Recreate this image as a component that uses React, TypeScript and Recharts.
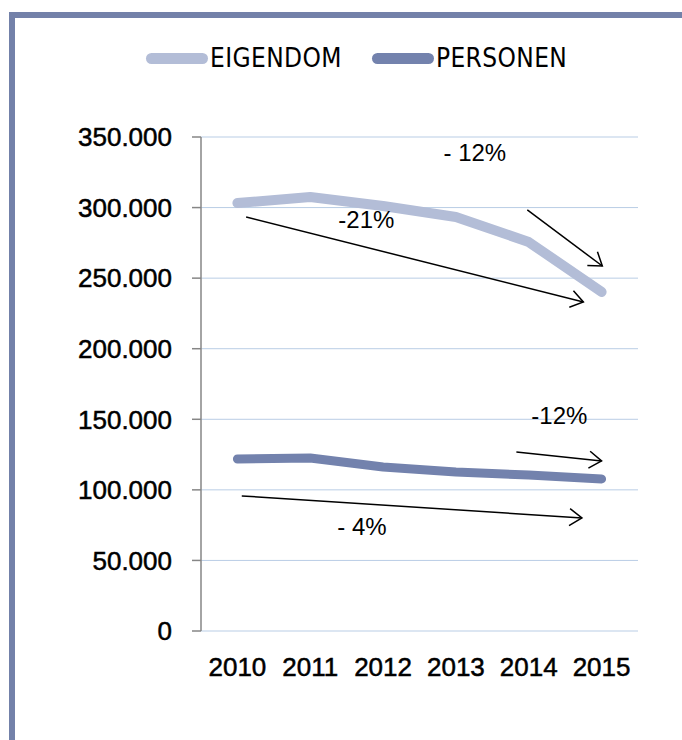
import React from "react";
import {
  LineChart,
  Line,
  XAxis,
  YAxis,
  CartesianGrid,
  ReferenceLine,
  ReferenceDot,
} from "recharts";

// values
const years = ["2010", "2011", "2012", "2013", "2014", "2015"];
const eigendom = [303200, 307500, 301100, 293300, 275600, 240200];
const personen = [121900, 122600, 116200, 112700, 110500, 107700];
const yTicks = [0, 50000, 100000, 150000, 200000, 250000, 300000, 350000];

// hand drawn arrows and their labels, in data units (x = year index)
const arrows = [
  { x1: 0.12, y1: 293300, x2: 4.75, y2: 233100 },
  { x1: 3.98, y1: 298300, x2: 5.01, y2: 258600 },
  { x1: 3.83, y1: 126800, x2: 5.0, y2: 120500 },
  { x1: 0.06, y1: 95700, x2: 4.73, y2: 80100 },
];
const notes = [
  { text: "- 12%", x: 3.26, y: 338700 },
  { text: "-21%", x: 1.77, y: 291200 },
  { text: "-12%", x: 4.42, y: 153000 },
  { text: "- 4%", x: 1.71, y: 73700 },
];

const series = [
  { key: "EIGENDOM", color: "#b3bdd7", width: 10 },
  { key: "PERSONEN", color: "#7382ad", width: 9 },
];

const data = years.map((year, i) => ({
  idx: i,
  year,
  EIGENDOM: eigendom[i],
  PERSONEN: personen[i],
}));

const boundaries = years.map((_, i) => i - 0.5).concat(years.length - 0.5);

const fmtY = (v: number) => (v === 0 ? "0" : `${v / 1000}.000`);

const Arrow = (props: any) => {
  const { x1, y1, x2, y2 } = props;
  const ang = Math.atan2(y2 - y1, x2 - x1);
  const len = 15;
  const spread = 0.6;
  const a = { x: x2 - len * Math.cos(ang - spread), y: y2 - len * Math.sin(ang - spread) };
  const b = { x: x2 - len * Math.cos(ang + spread), y: y2 - len * Math.sin(ang + spread) };
  return (
    <g>
      <line x1={x1} y1={y1} x2={x2} y2={y2} stroke="#000" strokeWidth={1.5} />
      <polyline
        points={`${a.x},${a.y} ${x2},${y2} ${b.x},${b.y}`}
        fill="none"
        stroke="#000"
        strokeWidth={1.5}
      />
    </g>
  );
};

const Note = (text: string) => (props: any) => (
  <text
    x={props.cx}
    y={props.cy}
    textAnchor="middle"
    dominantBaseline="central"
    fontSize={24}
    fontFamily="'Liberation Sans', Arial, sans-serif"
    fill="#000"
  >
    {text}
  </text>
);

const tickStyle = {
  fontSize: 26,
  fill: "#000",
  stroke: "#000",
  strokeWidth: 0.5,
  fontFamily: "'Liberation Sans', Arial, sans-serif",
};

export default function App() {
  return (
    <div
      style={{
        position: "absolute",
        left: 0,
        top: 0,
        width: 682,
        height: 740,
        background: "#fff",
        overflow: "hidden",
        fontFamily: "'Liberation Sans', Arial, sans-serif",
      }}
    >
      {/* frame (only top and left edges are in view) */}
      <div
        style={{
          position: "absolute",
          left: 9,
          top: 12,
          width: 700,
          height: 760,
          borderTop: "6px solid #7381a9",
          borderLeft: "6px solid #7381a9",
        }}
      />

      {/* legend */}
      <div
        style={{
          position: "absolute",
          left: 146,
          top: 40,
          height: 36,
          display: "flex",
          alignItems: "center",
          fontFamily: "'DejaVu Sans Condensed', 'Liberation Sans Narrow', sans-serif",
          fontSize: 26,
          letterSpacing: 0.4,
          color: "#000",
        }}
      >
        {series.map((s, i) => (
          <div
            key={s.key}
            style={{ display: "flex", alignItems: "center", marginRight: i === 0 ? 30 : 0 }}
          >
            <div
              style={{
                width: 62,
                height: 11,
                borderRadius: 5.5,
                background: s.color,
                marginRight: 2,
              }}
            />
            <span>{s.key}</span>
          </div>
        ))}
      </div>

      <div style={{ position: "absolute", left: 0, top: 0 }}>
        <LineChart
          width={682}
          height={740}
          data={data}
          margin={{ top: 137, right: 44, left: 0, bottom: 49 }}
        >
          <CartesianGrid vertical={false} stroke="#b9cde5" strokeWidth={1} />
          <XAxis
            dataKey="idx"
            type="number"
            domain={[-0.5, 5.5]}
            ticks={years.map((_, i) => i)}
            tickFormatter={(v) => years[v]}
            axisLine={false}
            tickLine={false}
            tickSize={0}
            tickMargin={27}
            height={60}
            tick={tickStyle}
          />
          <XAxis
            xAxisId="marks"
            dataKey="idx"
            type="number"
            domain={[-0.5, 5.5]}
            ticks={boundaries}
            tick={false}
            tickSize={10}
            axisLine={{ stroke: "#868686", strokeWidth: 2 }}
            tickLine={{ stroke: "#868686", strokeWidth: 2 }}
            height={0}
          />
          <YAxis
            domain={[0, 350000]}
            ticks={yTicks}
            tickFormatter={fmtY}
            width={201}
            tickSize={9}
            tickMargin={20}
            axisLine={{ stroke: "#868686", strokeWidth: 1.5 }}
            tickLine={{ stroke: "#868686", strokeWidth: 1.5 }}
            tick={tickStyle}
            interval={0}
          />
          {series.map((s) => (
            <Line
              key={s.key}
              dataKey={s.key}
              type="linear"
              stroke={s.color}
              strokeWidth={s.width}
              strokeLinecap="round"
              strokeLinejoin="round"
              dot={false}
              activeDot={false}
              isAnimationActive={false}
            />
          ))}
          {arrows.map((a, i) => (
            <ReferenceLine
              key={`a${i}`}
              segment={[
                { x: a.x1, y: a.y1 },
                { x: a.x2, y: a.y2 },
              ]}
              shape={Arrow}
              ifOverflow="visible"
            />
          ))}
          {notes.map((n, i) => (
            <ReferenceDot
              key={`n${i}`}
              x={n.x}
              y={n.y}
              r={0}
              shape={Note(n.text)}
              ifOverflow="visible"
            />
          ))}
        </LineChart>
      </div>
    </div>
  );
}
